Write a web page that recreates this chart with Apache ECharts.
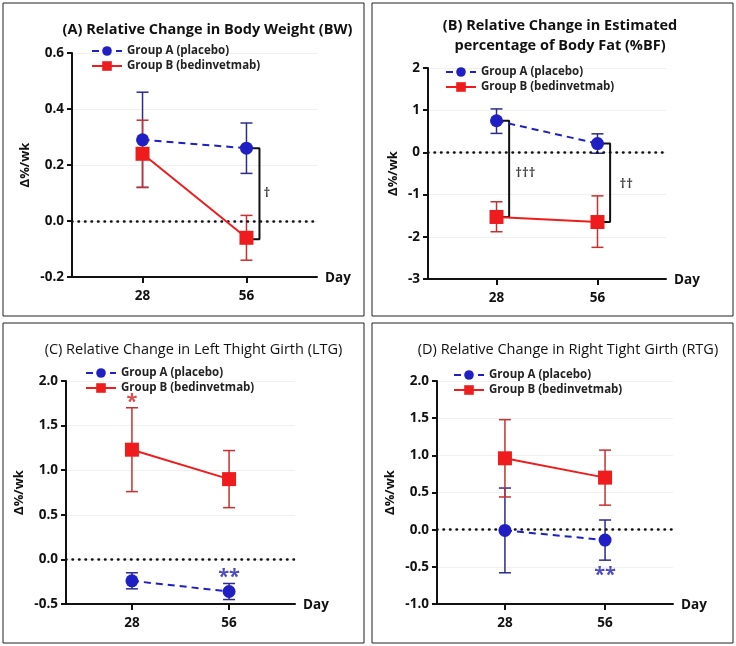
<!DOCTYPE html>
<html>
<head>
<meta charset="utf-8">
<script src="https://cdn.jsdelivr.net/npm/echarts@6/dist/echarts.min.js"></script>
<style>html,body{margin:0;padding:0;background:#fff}#main{width:736px;height:646px}</style>
</head>
<body>
<div id="main"></div>
<script>
// Day categories
const days = [28, 56];
const nameA = 'Group A (placebo)';
const nameB = 'Group B (bedinvetmab)';

// (A) Body weight
const bwA = [0.29, 0.26], bwAlo = [0.12, 0.17], bwAhi = [0.46, 0.35];
const bwB = [0.24, -0.06], bwBlo = [0.12, -0.14], bwBhi = [0.36, 0.02];
// (B) Body fat
const bfA = [0.75, 0.21], bfAlo = [0.45, -0.02], bfAhi = [1.03, 0.44];
const bfB = [-1.53, -1.65], bfBlo = [-1.88, -2.25], bfBhi = [-1.17, -1.03];
// (C) Left thigh girth
const ltA = [-0.24, -0.36], ltAlo = [-0.33, -0.45], ltAhi = [-0.15, -0.27];
const ltB = [1.23, 0.90], ltBlo = [0.76, 0.58], ltBhi = [1.70, 1.22];
// (D) Right thigh girth
const rtA = [-0.01, -0.14], rtAlo = [-0.58, -0.41], rtAhi = [0.56, 0.13];
const rtB = [0.96, 0.70], rtBlo = [0.44, 0.33], rtBhi = [1.48, 1.07];

// y ticks [min, max, interval]
const yA = [-0.2, 0.6, 0.2], yB = [-3, 2, 1], yC = [-0.5, 2, 0.5], yD = [-1, 2, 0.5];

// significance brackets [x, yTop, yBottom] and labels [x, y, text, colour]
const bracketsA = [[59.5, 0.26, -0.065]];
const bracketsB = [[31.5, 0.75, -1.53], [59.5, 0.21, -1.65]];
const marksA = [[61.5, 0.1, '†', '#111']];
const marksB = [[36, -0.5, '†††', '#111'], [64, -0.75, '††', '#111']];
const marksC = [[28, 1.76, '*', '#d42020'], [56, -0.2, '**', '#2020b0']];
const marksD = [[56, -0.62, '**', '#2020b0']];

const blue = '#1f1fc4', red = '#ee1c1c';

const panels = [
  {title: '(A) Relative Change in Body Weight (BW)', bold: true, box: [3, 3, 361, 313], grid: [72, 53, 245, 224], y: yA, fmt: 1,
   A: [bwA, bwAlo, bwAhi], B: [bwB, bwBlo, bwBhi], br: bracketsA, mk: marksA, legTop: 40, legLeft: 86},
  {title: '(B) Relative Change in Estimated\npercentage of Body Fat (%BF)', bold: true, box: [372, 3, 361, 313], grid: [428, 68, 238, 211], y: yB, fmt: 0,
   A: [bfA, bfAlo, bfAhi], B: [bfB, bfBlo, bfBhi], br: bracketsB, mk: marksB, legTop: 61, legLeft: 440},
  {title: '(C) Relative Change in Left Thight Girth (LTG)', bold: false, box: [3, 323, 361, 320], grid: [66, 381, 229, 223], y: yC, fmt: 1,
   A: [ltA, ltAlo, ltAhi], B: [ltB, ltBlo, ltBhi], br: [], mk: marksC, legTop: 362, legLeft: 80},
  {title: '(D) Relative Change in Right Tight Girth (RTG)', bold: false, box: [372, 323, 361, 320], grid: [437, 381, 236, 223], y: yD, fmt: 1,
   A: [rtA, rtAlo, rtAhi], B: [rtB, rtBlo, rtBhi], br: [], mk: marksD, legTop: 364, legLeft: 448}
];

const font = '"Open Sans", sans-serif';
const option = {
  animation: false,
  textStyle: {fontFamily: font},
  title: [], legend: [], grid: [], xAxis: [], yAxis: [], series: [], graphic: []
};

function errRender(color) {
  return function (params, api) {
    const x = api.value(0);
    const lo = api.coord([x, api.value(1)]);
    const hi = api.coord([x, api.value(2)]);
    const s = {stroke: color, lineWidth: 1.5};
    return {type: 'group', children: [
      {type: 'line', shape: {x1: lo[0], y1: lo[1], x2: hi[0], y2: hi[1]}, style: s},
      {type: 'line', shape: {x1: lo[0] - 6, y1: lo[1], x2: lo[0] + 6, y2: lo[1]}, style: s},
      {type: 'line', shape: {x1: hi[0] - 6, y1: hi[1], x2: hi[0] + 6, y2: hi[1]}, style: s}
    ]};
  };
}

panels.forEach(function (p, i) {
  option.graphic.push({type: 'rect', shape: {x: p.box[0], y: p.box[1], width: p.box[2], height: p.box[3]},
    style: {fill: 'none', stroke: '#222', lineWidth: 1}, z: -1});
  const cx = p.grid[0] + p.grid[2] / 2 + 8;
  option.title.push({text: p.title, left: cx, top: p.box[1] + (i === 1 ? 8 : 12), textAlign: 'center',
    textStyle: {fontSize: 14.5, fontWeight: p.bold ? 'bold' : 'normal', color: '#111', fontFamily: font, lineHeight: 20}});
  option.legend.push({orient: 'vertical', left: p.legLeft, top: p.legTop, itemGap: 3, itemWidth: 30, itemHeight: 12,
    data: [nameA, nameB], textStyle: {fontSize: 11.5, fontWeight: 'bold', color: '#222', fontFamily: font}, selectedMode: false});
  option.grid.push({left: p.grid[0], top: p.grid[1], width: p.grid[2], height: p.grid[3]});
  option.xAxis.push({type: 'value', gridIndex: i, min: 9, max: 75, name: 'Day', nameGap: 8,
    nameTextStyle: {fontSize: 13.5, fontWeight: 'bold', color: '#111', verticalAlign: 'top', padding: [-6, 0, 0, 0]},
    axisLine: {onZero: false, lineStyle: {color: '#111', width: 2}},
    axisTick: {show: true, customValues: days, length: 6, lineStyle: {color: '#111', width: 2}},
    axisLabel: {customValues: days, fontSize: 13.5, fontWeight: 'bold', color: '#111', margin: 12},
    splitLine: {show: false}});
  option.yAxis.push({type: 'value', gridIndex: i, min: p.y[0], max: p.y[1], interval: p.y[2],
    name: 'Δ%/wk', nameLocation: 'middle', nameGap: i === 1 ? 28 : 40,
    nameTextStyle: {fontSize: 13, fontWeight: 'bold', color: '#111'},
    axisLine: {show: true, onZero: false, lineStyle: {color: '#111', width: 2}},
    axisTick: {show: true, length: 5, lineStyle: {color: '#111', width: 2}},
    axisLabel: {fontSize: 13.5, fontWeight: 'bold', color: '#111', formatter: function (v) { return v.toFixed(p.fmt); }},
    splitLine: {show: true, lineStyle: {color: '#f0f0f0', width: 1}}});

  const ptsA = days.map(function (d, k) { return [d, p.A[0][k]]; });
  const ptsB = days.map(function (d, k) { return [d, p.B[0][k]]; });
  option.series.push({type: 'custom', xAxisIndex: i, yAxisIndex: i, renderItem: errRender('#2b2b8c'), z: 3,
    data: days.map(function (d, k) { return [d, p.A[1][k], p.A[2][k]]; })});
  option.series.push({type: 'custom', xAxisIndex: i, yAxisIndex: i, renderItem: errRender('#c83030'), z: 3,
    data: days.map(function (d, k) { return [d, p.B[1][k], p.B[2][k]]; })});
  option.series.push({name: nameA, type: 'line', xAxisIndex: i, yAxisIndex: i, data: ptsA, z: 5,
    symbol: 'circle', symbolSize: 13, itemStyle: {color: blue},
    lineStyle: {color: blue, width: 2, type: [7, 5]},
    markLine: {silent: true, symbol: 'none', label: {show: false},
      lineStyle: {color: '#111', type: [0.5, 6], width: 2.5, cap: 'round'}, data: [{yAxis: 0}]}});
  option.series.push({name: nameB, type: 'line', xAxisIndex: i, yAxisIndex: i, data: ptsB, z: 5,
    symbol: 'rect', symbolSize: 14, itemStyle: {color: red},
    lineStyle: {color: red, width: 2}});
  p.br.forEach(function (b) {
    const dx = b[0] > 40 ? 56 : 28;
    option.series.push({type: 'line', xAxisIndex: i, yAxisIndex: i, symbol: 'none', z: 4, silent: true,
      data: [[dx, b[1]], [b[0], b[1]], [b[0], b[2]], [dx, b[2]]],
      lineStyle: {color: '#111', width: 2}});
  });
  p.mk.forEach(function (m) {
    option.series.push({type: 'scatter', xAxisIndex: i, yAxisIndex: i, symbolSize: 0, silent: true, z: 6,
      data: [[m[0], m[1]]],
      label: {show: true, position: 'inside', formatter: m[2],
        fontSize: m[2].indexOf('*') >= 0 ? 20 : 13, fontWeight: 'bold', color: m[3], letterSpacing: 2}});
  });
});

const chart = echarts.init(document.getElementById('main'));
chart.setOption(option);
</script>
</body>
</html>
